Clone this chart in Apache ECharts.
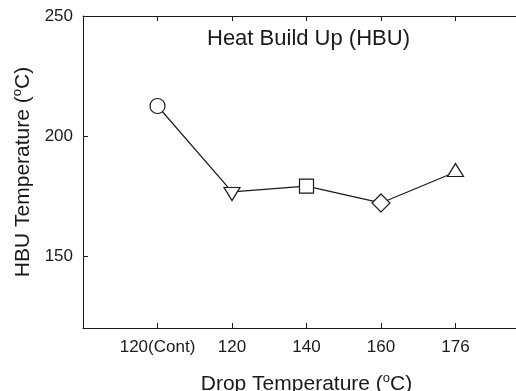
<!DOCTYPE html>
<html>
<head>
<meta charset="utf-8">
<script src="https://cdn.jsdelivr.net/npm/echarts@6/dist/echarts.min.js"></script>
<style>html,body{margin:0;padding:0;background:#fff;}#c{width:516px;height:391px;}</style>
</head>
<body>
<div id="c"></div>
<script>
// Data
const categories = ['120(Cont)', '120', '140', '160', '176'];
const hbuValues = [212.5, 176.7, 179.1, 172.1, 185.0];
const yTicks = [150, 200, 250];

// Marker styles (not data)
const markerShapes = ['circle', 'triangle', 'rect', 'diamond', 'triangle'];
const markerRotate = [0, 180, 0, 0, 0];
const markerSize = [15, [16, 13], 14, 18, [16, 13]];
const markerOffset = [[0, 0], [0, 2], [0, 0], [0, 0], [0, -2]];

const positions = categories.map((c, i) => i + 1);
const seriesData = hbuValues.map((v, i) => ({
  value: [positions[i], v],
  symbol: markerShapes[i],
  symbolRotate: markerRotate[i],
  symbolSize: markerSize[i],
  symbolOffset: markerOffset[i]
}));

const font = 'Liberation Sans, Arial, Helvetica, sans-serif';
const ink = '#1a1a1a';

const chart = echarts.init(document.getElementById('c'), null, {renderer: 'canvas'});
const xBase = {
  type: 'value', min: 0, max: categories.length + 1, interval: 1,
  axisLine: {show: true, lineStyle: {color: ink, width: 1}},
  axisTick: {show: true, inside: true, length: 5, lineStyle: {color: ink}},
  splitLine: {show: false}
};
chart.setOption({
  animation: false,
  backgroundColor: '#fff',
  title: {
    text: 'Heat Build Up (HBU)',
    left: 207, top: 28, padding: 0,
    textStyle: {fontFamily: font, fontSize: 22, fontWeight: 'normal', color: ink}
  },
  grid: {left: 83, top: 16, right: -14, bottom: 63, containLabel: false, outerBoundsMode: 'none'},
  xAxis: [
    Object.assign({}, xBase, {
      position: 'bottom',
      axisLabel: {
        show: true, margin: 11, showMinLabel: true, showMaxLabel: true,
        fontFamily: font, fontSize: 17, color: ink,
        formatter: v => categories[Math.round(v) - 1] || ''
      },
      name: '{n|Drop Temperature (}{s|o}{n|C)}',
      nameLocation: 'middle', nameGap: 44,
      nameTextStyle: {
        fontFamily: font, fontSize: 21, color: ink,
        rich: {
          n: {fontFamily: font, fontSize: 21, color: ink, lineHeight: 24},
          s: {fontFamily: font, fontSize: 13, color: ink, lineHeight: 13, verticalAlign: 'top'}
        }
      }
    }),
    Object.assign({}, xBase, {position: 'top', axisLabel: {show: false}})
  ],
  yAxis: [{
    type: 'value', min: 120, max: 250,
    axisLine: {show: true, lineStyle: {color: ink, width: 1}},
    axisTick: {show: true, inside: true, length: 5, customValues: yTicks, lineStyle: {color: ink}},
    axisLabel: {show: true, customValues: yTicks, margin: 10, fontFamily: font, fontSize: 17, color: ink},
    splitLine: {show: false},
    name: '{n|HBU Temperature (}{s|o}{n|C)}',
    nameLocation: 'middle', nameGap: 48,
    nameTextStyle: {
      fontFamily: font, fontSize: 21, color: ink,
      rich: {
        n: {fontFamily: font, fontSize: 21, color: ink, lineHeight: 24},
        s: {fontFamily: font, fontSize: 13, color: ink, lineHeight: 13, verticalAlign: 'top'}
      }
    }
  }],
  series: [{
    type: 'line',
    data: seriesData,
    lineStyle: {color: ink, width: 1.2},
    itemStyle: {color: '#fff', borderColor: ink, borderWidth: 1.2},
    showAllSymbol: true,
    clip: false,
    z: 3
  }]
});
</script>
</body>
</html>
